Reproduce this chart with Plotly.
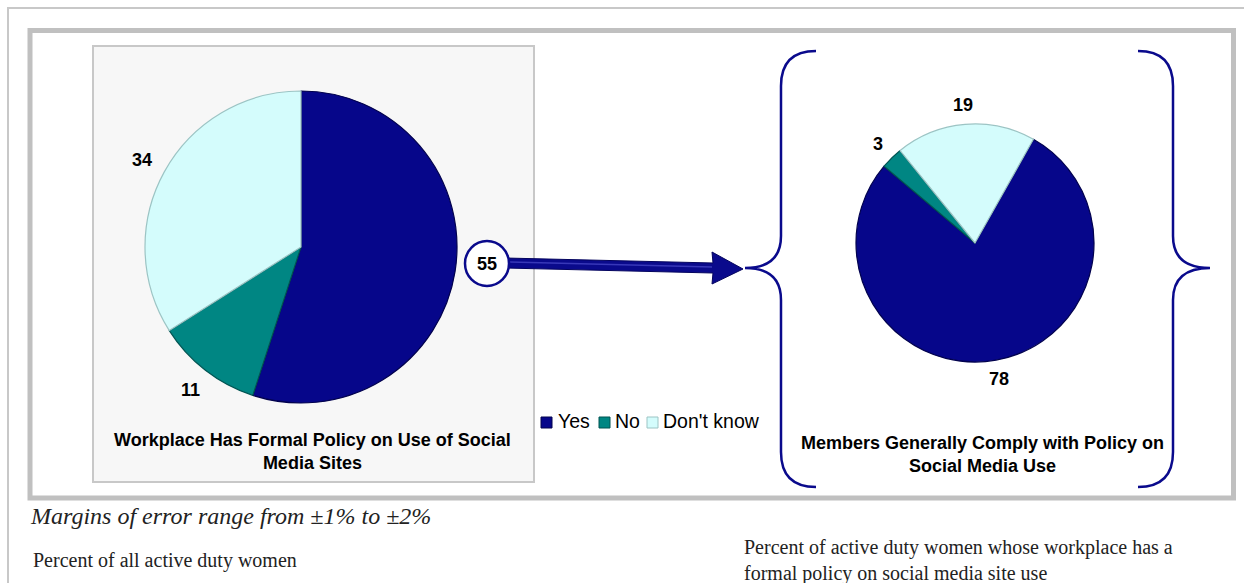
import math
import plotly.graph_objects as go

# ---- data -------------------------------------------------------------
categories = ["Yes", "No", "Don't know"]
policy_values = [55, 11, 34]        # workplace has formal policy (all active duty women)
comply_values = [78, 3, 19]         # members generally comply (women with a policy)
slice_colors = ["#06068a", "#008683", "#d4fcfc"]
slice_edges = ["#02024e", "#005553", "#9cc4c4"]

policy_title = "Workplace Has Formal Policy on Use of Social<br>Media Sites"
comply_title = "Members Generally Comply with Policy on<br>Social Media Use"
moe_note = "Margins of error range from ±1% to ±2%"
policy_base = "Percent of all active duty women"
comply_base = "Percent of active duty women whose workplace has a<br>formal policy on social media site use"

# ---- canvas helpers (pixel -> paper) -----------------------------------
W, H = 1244, 583
NAVY = "#0a0a8c"


def px(x):
    return x / W


def py(y):
    return 1 - y / H


def path(cmds):
    out = []
    for c in cmds:
        if isinstance(c, str):
            out.append(c)
        else:
            out.append(f"{px(c[0]):.5f},{py(c[1]):.5f}")
    return " ".join(out)


def domain(cx, cy, r):
    return dict(x=[px(cx - r), px(cx + r)], y=[py(cy + r), py(cy - r)])


def label_points(values, cx, cy, r, rotation, k):
    total = sum(values)
    pts, cum = [], 0
    for v in values:
        mid = math.radians(rotation + 360 * (cum + v / 2) / total)
        pts.append((cx + k * r * math.sin(mid), cy - k * r * math.cos(mid)))
        cum += v
    return pts


L_CX, L_CY, L_R, L_ROT = 301, 247, 156, 0
R_CX, R_CY, R_R, R_ROT = 975, 243, 119, 29.4

fig = go.Figure()
fig.add_trace(go.Pie(
    labels=categories, values=policy_values, sort=False, direction="clockwise",
    rotation=L_ROT, domain=domain(L_CX, L_CY, L_R), textinfo="none",
    marker=dict(colors=slice_colors, line=dict(color=slice_edges, width=1.2)),
    showlegend=False,
))
fig.add_trace(go.Pie(
    labels=categories, values=comply_values, sort=False, direction="clockwise",
    rotation=R_ROT, domain=domain(R_CX, R_CY, R_R), textinfo="none",
    marker=dict(colors=slice_colors, line=dict(color=slice_edges, width=1.2)),
    showlegend=False,
))

shapes = []
# page border and outer frame
shapes.append(dict(type="path", path=path(["M", (8, 583), "L", (8, 8), "L", (1244, 8)]),
                   xref="paper", yref="paper", line=dict(color="#c8c8c8", width=2), layer="below"))
shapes.append(dict(type="rect", xref="paper", yref="paper",
                   x0=px(30), x1=px(1233.5), y0=py(498), y1=py(30.5),
                   line=dict(color="#c0c0c0", width=5), layer="below"))
# grey panel behind the first pie
shapes.append(dict(type="rect", xref="paper", yref="paper",
                   x0=px(93), x1=px(534), y0=py(482), y1=py(46),
                   fillcolor="#f7f7f7", line=dict(color="#c8c8c8", width=2), layer="below"))

# arrow from the "Yes" share to the second chart
shapes.append(dict(type="path", xref="paper", yref="paper",
                   path=path(["M", (505, 258), "L", (713, 263), "L", (712, 252), "L", (743, 269),
                              "L", (712, 284), "L", (713, 273), "L", (505, 268), "Z"]),
                   fillcolor=NAVY, line=dict(color="#05055e", width=1), layer="above"))
shapes.append(dict(type="path", xref="paper", yref="paper",
                   path=path(["M", (510, 262), "L", (712, 267)]),
                   line=dict(color="#3838b8", width=1.5), layer="above"))
# callout circle
shapes.append(dict(type="circle", xref="paper", yref="paper",
                   x0=px(465), x1=px(509), y0=py(286), y1=py(241),
                   fillcolor="white", line=dict(color=NAVY, width=2.5), layer="above"))

# braces around the second pie
left_brace = ["M", (816, 51), "Q", (781, 51), (781, 86), "L", (781, 236), "Q", (781, 268), (745, 268),
              "Q", (781, 268), (781, 300), "L", (781, 452), "Q", (781, 487), (816, 487)]
right_brace = ["M", (1138, 51), "Q", (1173, 51), (1173, 86), "L", (1173, 236), "Q", (1173, 268), (1210, 268),
               "Q", (1173, 268), (1173, 300), "L", (1173, 452), "Q", (1173, 487), (1138, 487)]
for b in (left_brace, right_brace):
    shapes.append(dict(type="path", xref="paper", yref="paper", path=path(b),
                       line=dict(color=NAVY, width=2.5), layer="above"))

# legend swatches
legend_x = [541, 599, 647]
for x0, col, edge in zip(legend_x, slice_colors, slice_edges):
    shapes.append(dict(type="rect", xref="paper", yref="paper",
                       x0=px(x0), x1=px(x0 + 11), y0=py(428), y1=py(417),
                       fillcolor=col, line=dict(color=edge, width=1), layer="above"))

annotations = []
LABEL_FONT = dict(family="Liberation Sans, Arial", size=18, color="black", weight="bold")


def note(x, y, text, font, xanchor="center", align="center"):
    annotations.append(dict(x=px(x), y=py(y), xref="paper", yref="paper", text=text,
                            showarrow=False, font=font, xanchor=xanchor, yanchor="middle",
                            align=align))


# slice value labels
lp = label_points(policy_values, L_CX, L_CY, L_R, L_ROT, 1.16)
for i, v in enumerate(policy_values):
    if i == 0:
        note(487, 264, str(v), LABEL_FONT)      # shown in the callout circle
    else:
        note(lp[i][0], lp[i][1], str(v), LABEL_FONT)
rp = label_points(comply_values, R_CX, R_CY, R_R, R_ROT, 1.16)
for i, v in enumerate(comply_values):
    note(rp[i][0], rp[i][1], str(v), LABEL_FONT)

# chart titles
note(312, 451, policy_title, LABEL_FONT)
note(982, 454, comply_title, LABEL_FONT)

# legend text
legend_text_x = [556, 613, 661]
for x0, cat in zip(legend_text_x, categories):
    note(x0, 421, cat, dict(family="Liberation Sans, Arial", size=19.5, color="black"), xanchor="left")

# footnotes
SERIF = "Liberation Serif, Times New Roman"
note(28, 516, moe_note, dict(family=SERIF, size=24, color="#222", style="italic"), xanchor="left", align="left")
note(31, 560, policy_base, dict(family=SERIF, size=20, color="#222"), xanchor="left", align="left")
note(742, 560, comply_base, dict(family=SERIF, size=20, color="#222"), xanchor="left", align="left")

fig.update_layout(
    width=W, height=H, margin=dict(l=0, r=0, t=0, b=0),
    paper_bgcolor="white", plot_bgcolor="white",
    shapes=shapes, annotations=annotations, showlegend=False,
)

fig.write_html("out.html")
